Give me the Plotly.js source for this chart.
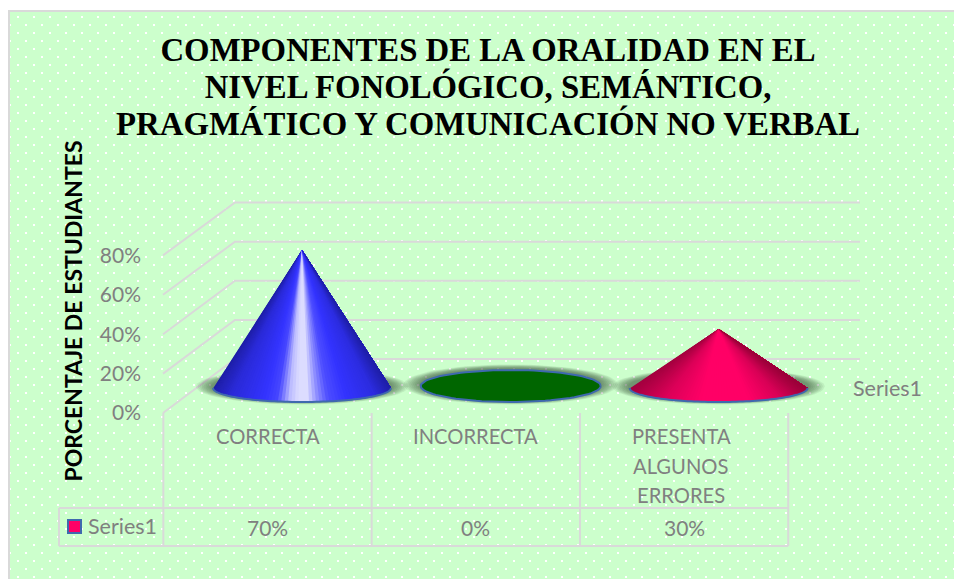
<!DOCTYPE html>
<html><head><meta charset="utf-8">
<script src="https://cdn.plot.ly/plotly-3.0.1.min.js"></script>
<style>html,body{margin:0;padding:0;background:#fff}</style></head>
<body><div id="chart" style="width:954px;height:579px"></div>
<script>
const titleLines = ["COMPONENTES DE LA ORALIDAD EN EL","NIVEL FONOLÓGICO, SEMÁNTICO,","PRAGMÁTICO Y COMUNICACIÓN NO VERBAL"];
const categories = [["CORRECTA"],["INCORRECTA"],["PRESENTA","ALGUNOS","ERRORES"]];
const values = [70,0,30];
const yTicks = [0,20,40,60,80];
const seriesName = "Series1";
const yTitle = "PORCENTAJE DE ESTUDIANTES";

const W=954,H=579, sx=208.3, x0=267.5, sy=1.97, y0=413;
const X=p=>(p-x0)/sx, Y=p=>(y0-p)/sy;
const GRAY="#808080", GRID="#D9D9D9", FONT="Lato, Carlito, sans-serif", TITLE_SIZE=32.8, TITLE_LEAD=37;
const traces=[];
function poly(xs,ys,fill){traces.push({x:xs,y:ys,mode:'lines',fill:'toself',fillcolor:fill,line:{width:0,color:fill},hoverinfo:'skip',showlegend:false});}
function line(xs,ys,c,w){traces.push({x:xs,y:ys,mode:'lines',line:{color:c,width:w,simplify:false},hoverinfo:'skip',showlegend:false});}

const back=Y(359), yk=(Y(202.5)-back)/80;
yTicks.forEach(t=>{line([X(163),X(235),X(860)],[t,back+t*yk,back+t*yk],GRID,2);});
[-0.5,0.5,1.5,2.5].forEach(e=>line([e,e],[Y(413),Y(546)],GRID,2));
line([X(59),2.5],[Y(508),Y(508)],GRID,2);
line([X(59),2.5],[Y(546),Y(546)],GRID,2);
line([X(59),X(59)],[Y(508),Y(546)],GRID,2);

function ellipse(cx,cy,rx,ry,from,to,n){const xs=[],ys=[];for(let i=0;i<=n;i++){const a=from+(to-from)*i/n;xs.push(cx+rx*Math.cos(a));ys.push(cy+ry*Math.sin(a));}return [xs,ys];}
function hex(c){return [1,3,5].map(i=>parseInt(c.substr(i,2),16));}
function ramp(st,u){for(let i=1;i<st.length;i++){if(u<=st[i][0]){const t=(u-st[i-1][0])/(st[i][0]-st[i-1][0]),a=hex(st[i-1][1]),b=hex(st[i][1]);return 'rgb('+a.map((v,k)=>Math.round(v+(b[k]-v)*t)).join(',')+')';}}return st[st.length-1][1];}
const blueRamp=[[-1.01,"#1e1ea6"],[-0.8,"#2a2ad8"],[-0.42,"#3333ff"],[-0.28,"#4646ff"],[-0.14,"#bcbcff"],[-0.04,"#dcdcff"],[0.06,"#dcdcff"],[0.18,"#8a8aff"],[0.3,"#4d4dff"],[0.5,"#3333ff"],[0.82,"#2c2ce0"],[1.01,"#1e1ea6"]];
const pinkRamp=[[-1.01,"#a3003f"],[-0.6,"#dc0058"],[-0.2,"#ff0066"],[0.35,"#ff0066"],[0.7,"#d80056"],[1.01,"#990039"]];
const ramps=[blueRamp,null,pinkRamp];
const rx=89/sx, ry=14/sy, base=Y(388), shift=34.5/sx;

values.forEach((v,i)=>{
  const cx=i+shift+(i==1?0.002:0), flat=v===0, cy=flat?Y(386):base, r=flat?16/sy:ry, rX=flat?90/sx:rx;
  for(let k=9;k>=1;k--){const e=ellipse(cx,cy+1.5/sy,rX+k*1.9/sx,r+k*0.45/sy,0,2*Math.PI,72);poly(e[0],e[1],'rgba(50,70,50,0.085)');}
  if(flat){
    const e=ellipse(cx,cy,rX,r,0,2*Math.PI,96);
    traces.push({x:e[0],y:e[1],mode:'lines',fill:'toself',fillcolor:'#006600',line:{color:'#3F69AE',width:2},hoverinfo:'skip',showlegend:false});
  } else {
    const n=80, top=cy+v;
    for(let s=0;s<n;s++){
      const a0=Math.PI+Math.PI*s/n;
      const e=ellipse(cx,cy,rX,r,a0,2*Math.PI,n-s);
      poly([cx].concat(e[0],[cx]),[top].concat(e[1],[top]),ramp(ramps[i],Math.cos(a0+Math.PI/(2*n))));
    }
    const a=ellipse(cx,cy,rX,r,Math.PI,2*Math.PI,80);
    line(a[0],a[1],'#3F69AE',2);
  }
});
// swatch of the series key in the data table
traces.push({x:[X(74.5)],y:[Y(526.5)],mode:'markers',name:seriesName,showlegend:false,hoverinfo:'skip',marker:{symbol:'square',size:13,color:'#FF0066',line:{color:'#3F69AE',width:2}}});

const annotations=[];
function note(t,x,y,size,a,c){annotations.push({text:t,x:x,y:y,xref:'x',yref:'y',showarrow:false,xanchor:a||'center',yanchor:'middle',font:{family:FONT,size:size,color:c||GRAY}});}
categories.forEach((c,i)=>c.forEach((t,j)=>note(t,i-(c.length>1?3/sx:0),Y(436+j*29.5),20.2)));
values.forEach((v,i)=>note(v+'%',i,Y(527),21));
note(seriesName,X(851),Y(388),21.5,'left');
note(seriesName,X(86),Y(526),21.5,'left');

const dots=encodeURIComponent('<svg xmlns="http://www.w3.org/2000/svg" width="946" height="569"><defs><pattern id="p" width="16" height="16" patternUnits="userSpaceOnUse"><rect x="9" y="6" width="2" height="2" fill="#fff"/><rect x="1" y="14" width="2" height="2" fill="#fff"/></pattern></defs><rect width="946" height="569" fill="#CCFFCC"/><rect width="946" height="569" fill="url(#p)"/></svg>');

const layout={width:W,height:H,margin:{l:0,r:0,t:0,b:0,pad:0},paper_bgcolor:'#fff',plot_bgcolor:'rgba(0,0,0,0)',
 title:{text:titleLines.join('<br>'),font:{family:'"Liberation Serif",serif',size:TITLE_SIZE,color:'#000',weight:'bold'},x:488/W,xanchor:'center',y:1-60.5/H,yanchor:'top',pad:{t:0}},
 xaxis:{range:[X(0),X(W)],visible:false,fixedrange:true},
 yaxis:{domain:[0,1-43/H],range:[Y(H),Y(43)],anchor:'free',position:141/W,tickvals:yTicks,ticktext:yTicks.map(t=>t+'%'),tickfont:{family:FONT,size:21,color:GRAY},ticks:'',showgrid:false,zeroline:false,showline:false,fixedrange:true,
   title:{text:'<b>'+yTitle+'</b>',font:{family:FONT,size:23,color:'#000'},standoff:9}},
 showlegend:false,
 images:[{source:'data:image/svg+xml,'+dots,xref:'paper',yref:'paper',x:8/W,y:1-10/H,sizex:946/W,sizey:569/H,sizing:'stretch',xanchor:'left',yanchor:'top',layer:'below'}],
 shapes:[{type:'path',xref:'paper',yref:'paper',path:'M '+(9/W)+' 0 L '+(9/W)+' '+(1-11/H)+' L 1 '+(1-11/H),line:{color:GRID,width:2},layer:'below'}],
 annotations:annotations,hovermode:false};
Plotly.newPlot('chart',traces,layout,{displayModeBar:false,staticPlot:true}).then(()=>{
  document.querySelectorAll('.gtitle tspan.line').forEach((t,i)=>t.setAttribute('dy',(i*TITLE_LEAD/TITLE_SIZE)+'em'));
});
</script></body></html>
